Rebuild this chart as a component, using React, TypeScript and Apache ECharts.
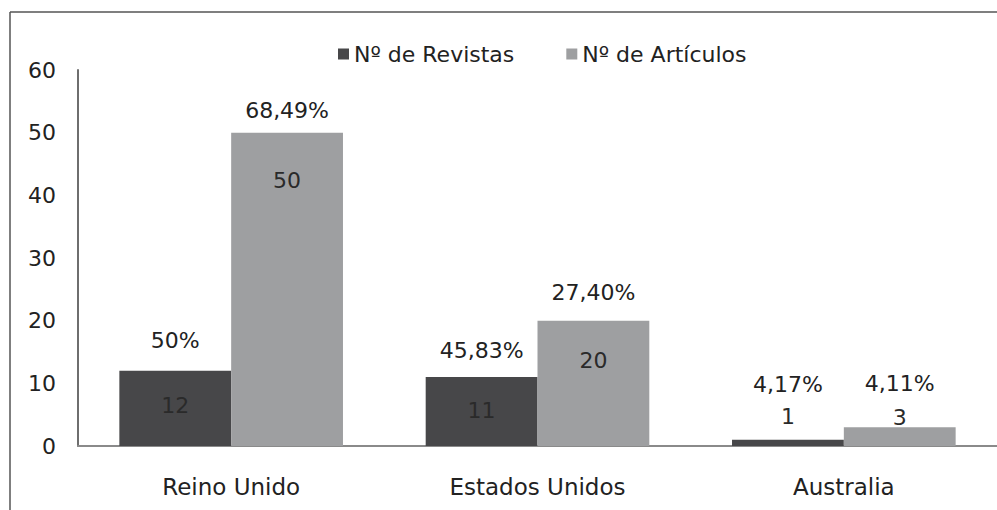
import React, { useEffect, useRef } from "react";
import * as echarts from "echarts";

const categories = ["Reino Unido", "Estados Unidos", "Australia"];
const revistas = [12, 11, 1];
const articulos = [50, 20, 3];
const revistasPct = ["50%", "45,83%", "4,17%"];
const articulosPct = ["68,49%", "27,40%", "4,11%"];
const yTicks = { min: 0, max: 60, interval: 10 };

// label placement: [value offset below bar top, percent offset above bar top]
const revistasLabelPos = [[35, 30], [33, 27], [-23, 55]];
const articulosLabelPos = [[48, 22], [40, 28], [-10, 44]];

const FONT = "'DejaVu Sans', 'Noto Sans', sans-serif";
const TEXT = "#222222";
const FS = 22;

function makeData(values: number[], pcts: string[], pos: number[][]) {
  return values.map((v, i) => {
    const [a, b] = pos[i];
    const L = 2 * (a + b - 11);
    const distance = -(a + L / 2);
    return {
      value: v,
      label: {
        show: true,
        position: "top",
        distance,
        formatter: `{p|${pcts[i]}}\n{v|${v}}`,
        rich: {
          p: { fontSize: FS, lineHeight: 22, color: TEXT, fontFamily: FONT },
          v: { fontSize: FS, lineHeight: L, color: "#2a2a2a", fontFamily: FONT },
        },
      },
    };
  });
}

export default function App() {
  const ref = useRef<HTMLDivElement>(null);
  useEffect(() => {
    if (!ref.current) return;
    const chart = echarts.init(ref.current, undefined, { renderer: "svg" });
    chart.setOption({
      animation: false,
      backgroundColor: "#ffffff",
      textStyle: { fontFamily: FONT, color: TEXT },
      legend: {
        top: 38,
        left: 333,
        itemWidth: 11,
        itemHeight: 11,
        itemGap: 52,
        icon: "rect",
        textStyle: { fontSize: FS, color: TEXT, fontFamily: FONT },
        data: ["Nº de Revistas", "Nº de Artículos"],
      },
      grid: { left: 78, right: -14, top: 70, bottom: 64, containLabel: false },
      xAxis: {
        type: "category",
        data: categories,
        axisLine: { lineStyle: { color: "#8a8a8a", width: 2 } },
        axisTick: { show: false },
        axisLabel: { fontSize: 23, color: TEXT, margin: 29, fontFamily: FONT },
      },
      yAxis: {
        type: "value",
        min: yTicks.min,
        max: yTicks.max,
        interval: yTicks.interval,
        axisLine: { show: true, lineStyle: { color: "#6e6e6e", width: 2 } },
        axisTick: { show: false },
        splitLine: { show: false },
        axisLabel: {
          fontSize: 22,
          color: TEXT,
          margin: 22,
          padding: [12, 0, 0, 0],
          fontFamily: FONT,
        },
      },
      series: [
        {
          name: "Nº de Revistas",
          type: "bar",
          barGap: "0%",
          barCategoryGap: "27%",
          itemStyle: { color: "#474749" },
          data: makeData(revistas, revistasPct, revistasLabelPos),
        },
        {
          name: "Nº de Artículos",
          type: "bar",
          barGap: "0%",
          barCategoryGap: "27%",
          itemStyle: { color: "#9e9fa1" },
          data: makeData(articulos, articulosPct, articulosLabelPos),
        },
      ],
      graphic: [
        {
          type: "line",
          shape: { x1: 10, y1: 12, x2: 997, y2: 12 },
          style: { stroke: "#555555", lineWidth: 1.5 },
        },
        {
          type: "line",
          shape: { x1: 10, y1: 12, x2: 10, y2: 510 },
          style: { stroke: "#555555", lineWidth: 1.5 },
        },
      ],
    });
    return () => chart.dispose();
  }, []);
  return <div ref={ref} style={{ width: 997, height: 510, position: "absolute", left: 0, top: 0 }} />;
}
